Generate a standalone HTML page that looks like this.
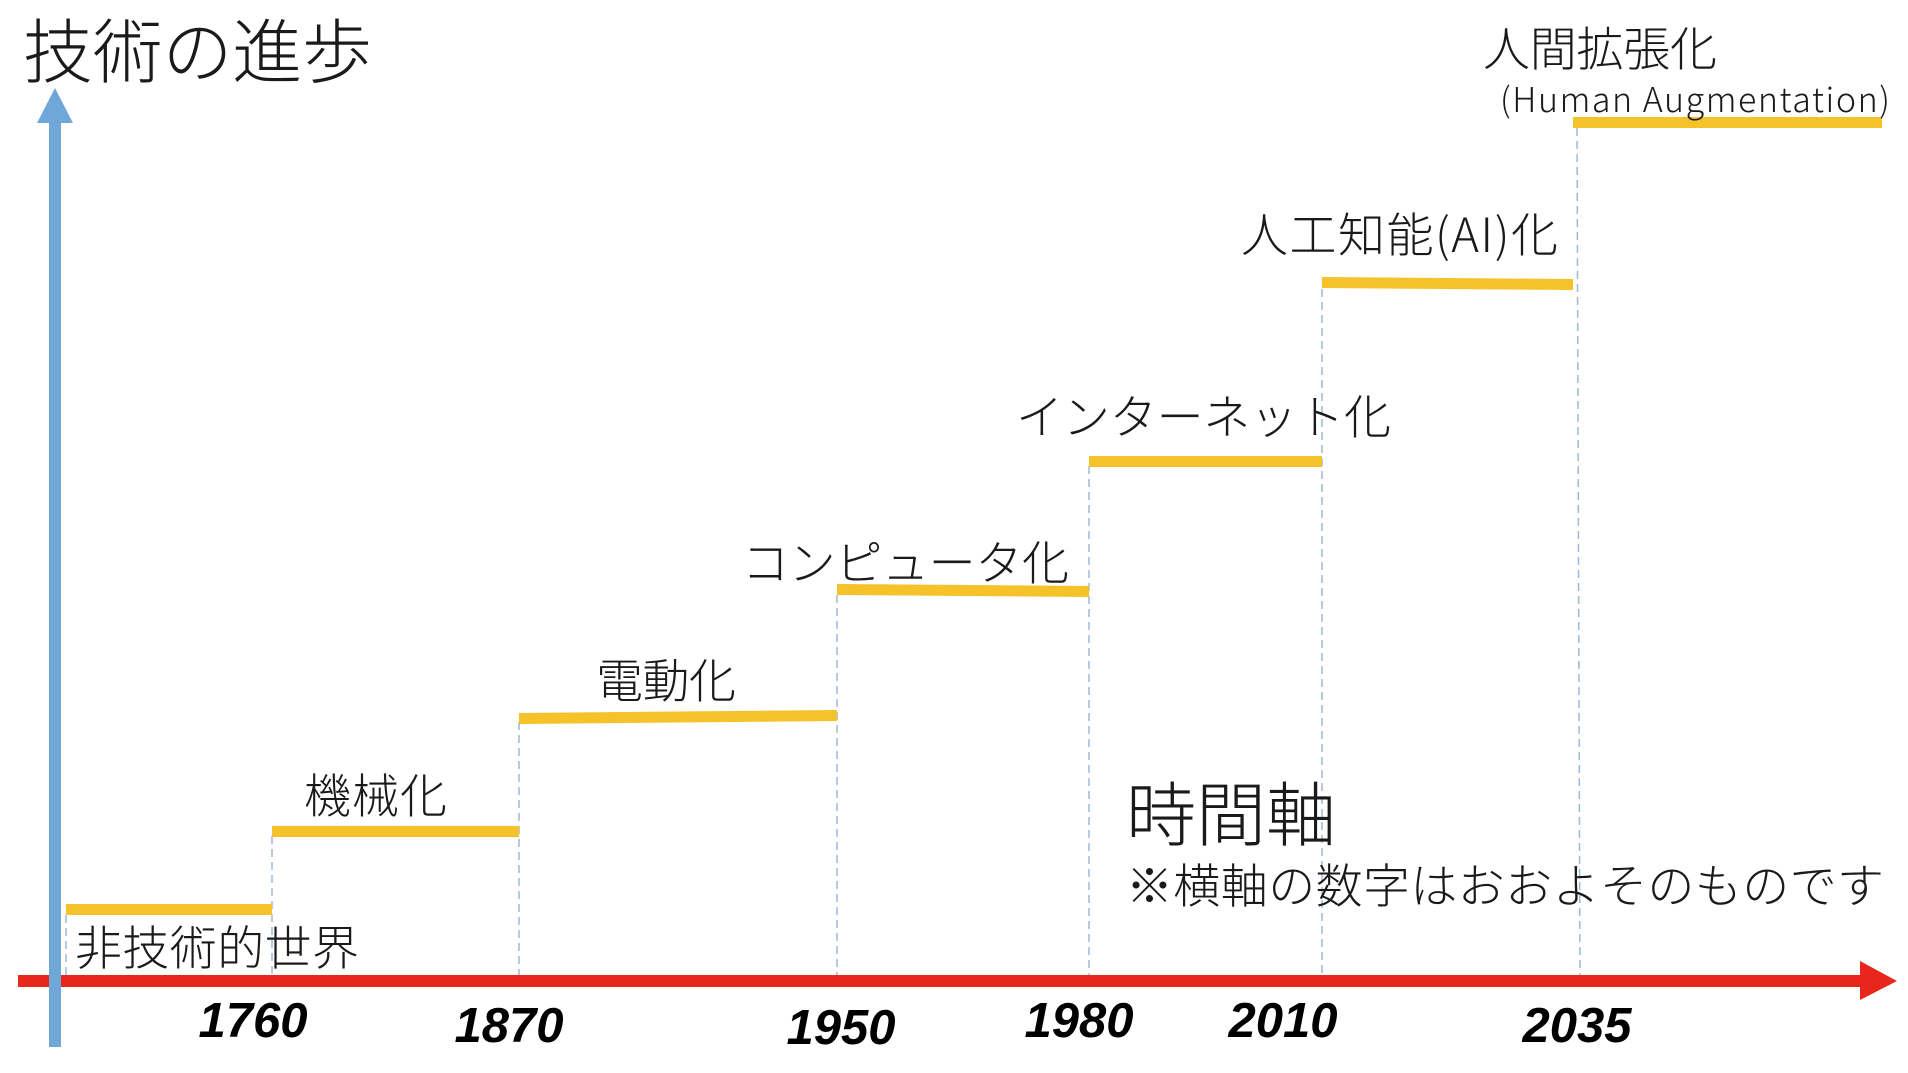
<!DOCTYPE html>
<html><head><meta charset="utf-8"><style>
html,body{margin:0;padding:0;background:#fff;}
svg{display:block;}
.j{font-family:"Noto Sans CJK JP","Liberation Sans",sans-serif;font-weight:300;fill:#1a1a1a;}
.y{font-family:"Liberation Sans",sans-serif;font-weight:bold;font-style:italic;fill:#000;font-size:49px;text-anchor:middle;}
</style></head><body>
<svg width="1908" height="1073" viewBox="0 0 1908 1073">
<rect width="1908" height="1073" fill="#fff"/>
<g stroke="#9fb8d8" stroke-width="1.5" stroke-dasharray="8,5">
<line x1="66" y1="915" x2="66" y2="981"/>
<line x1="272" y1="836" x2="272" y2="981"/>
<line x1="519" y1="722" x2="519" y2="981"/>
<line x1="837" y1="595" x2="837" y2="981"/>
<line x1="1089" y1="466" x2="1089" y2="981"/>
<line x1="1322" y1="289" x2="1322" y2="981"/>
<line x1="1577" y1="128" x2="1580" y2="981"/>
</g>
<g fill="#f5c22a">
<rect x="66" y="904" width="206" height="11"/>
<rect x="272" y="826" width="247" height="11"/>
<polygon points="519,713 837,710 837,721 519,724"/>
<polygon points="837,584 1089,586 1089,597 837,595"/>
<rect x="1089" y="456" width="233" height="11"/>
<polygon points="1322,277 1573,279 1573,290 1322,288"/>
<rect x="1573" y="117" width="309" height="11"/>
</g>
<rect x="18" y="975" width="1845" height="12" fill="#e8271c"/>
<polygon points="1860,961 1897,981 1860,1000" fill="#e8271c"/>
<rect x="49" y="118" width="12" height="929" fill="#6fa8d8"/>
<polygon points="55,88 73,123 37,123" fill="#6fa8d8"/>
<text class="j" x="23" y="77" font-size="70" textLength="349">技術の進歩</text>
<text class="j" x="75" y="965" font-size="47" textLength="284">非技術的世界</text>
<text class="j" x="304" y="813" font-size="47" textLength="143">機械化</text>
<text class="j" x="596" y="698" font-size="47" textLength="140">電動化</text>
<text class="j" x="742" y="580" font-size="47" textLength="327">コンピュータ化</text>
<text class="j" x="1016" y="434" font-size="47" textLength="375">インターネット化</text>
<text class="j" x="1241" y="252" font-size="47" textLength="317">人工知能(AI)化</text>
<text class="j" x="1483" y="66" font-size="47" textLength="234">人間拡張化</text>
<text class="j" x="1500" y="112" font-size="34" textLength="390">(Human Augmentation)</text>
<text class="j" x="1126" y="840" font-size="70" textLength="210">時間軸</text>
<text class="j" x="1126" y="903" font-size="47" textLength="758">※横軸の数字はおおよそのものです</text>
<text class="y" x="253" y="1037">1760</text>
<text class="y" x="509" y="1042">1870</text>
<text class="y" x="841" y="1044">1950</text>
<text class="y" x="1079" y="1037">1980</text>
<text class="y" x="1283" y="1037">2010</text>
<text class="y" x="1577" y="1042">2035</text>
</svg>
</body></html>
